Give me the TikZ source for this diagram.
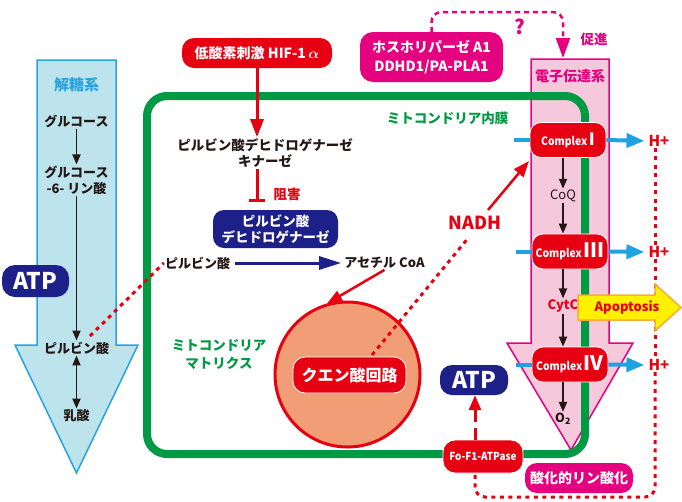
\documentclass[tikz,border=0pt]{standalone}
\usepackage{fontspec}
\setmainfont{Noto Sans CJK JP}
\usetikzlibrary{arrows.meta,calc}
\definecolor{cred}{HTML}{E60012}
\definecolor{cnavy}{HTML}{1D2088}
\definecolor{cmag}{HTML}{E4007F}
\definecolor{cpink}{HTML}{F5C8DC}
\definecolor{cgreen}{HTML}{009944}
\definecolor{csalmon}{HTML}{F19E77}
\definecolor{ccyan}{HTML}{1FA2E1}
\definecolor{clblue}{HTML}{BDE3EC}
\definecolor{cblueb}{HTML}{29A3DF}
\definecolor{cyel}{HTML}{FFF100}
\definecolor{corange}{HTML}{F6AD3C}
\definecolor{cdk}{HTML}{231815}
\newcommand\fs[1]{\fontsize{#1}{#1}\selectfont}
\newcommand\cplx[2]{{\fs{11.5}\scalebox{0.9}[1]{Complex}}\,{\fs{#1}#2}}
\begin{document}
\begin{tikzpicture}[x=1pt,y=-1pt,
  lbl/.style={font=\bfseries\fontsize{13}{16}\selectfont, text=cdk, align=center, inner sep=1pt},
  rbox/.style={fill=cred, draw=white, line width=0.8pt, rounded corners=9pt, text=white, font=\bfseries, inner sep=0pt, align=center},
  nbox/.style={fill=cnavy, rounded corners=11pt, text=white, font=\bfseries, inner sep=0pt, align=center},
  mbox/.style={fill=cmag, rounded corners=12pt, text=white, font=\bfseries, inner sep=0pt, align=center},
  cbox/.style={rbox, minimum width=76pt, minimum height=35pt, rounded corners=11pt},
  blk/.style={draw=cdk, line width=1.9pt, -{Triangle[length=10pt,width=8pt]}},
  reddot/.style={draw=cred, line width=3pt, dash pattern=on 4pt off 4.5pt},
  cyarr/.style={draw=ccyan, line width=4pt, -{Triangle[length=18pt,width=14pt]}},
  cystub/.style={draw=ccyan, line width=4pt},
  redarr/.style={draw=cred, line width=3pt, -{Triangle[length=18pt,width=13pt]}},
  hlab/.style={font=\bfseries\fs{15}, text=cred, fill=white, inner sep=1pt}]
\fill[white] (0,0) rectangle (682,501);
\useasboundingbox (0,0) rectangle (682,501);
% glycolysis arrow
\draw[draw=cblueb, fill=clblue, line width=1.5pt] (37,60) -- (116,60) -- (116,345) -- (138,345) -- (76.5,473) -- (15,345) -- (37,345) -- cycle;
% electron transport arrow
\draw[draw=cmag, fill=cpink, line width=1.5pt] (531,59) -- (609,59) -- (609,343) -- (633,343) -- (571,450) -- (507,343) -- (531,343) -- cycle;
% membrane
\draw[cgreen, line width=8pt, rounded corners=20pt] (147,96) rectangle (585,454);
% citric acid circle
\node[circle, draw=cred, fill=csalmon, line width=3pt, minimum size=145pt, inner sep=0pt] (circ) at (347.5,374.5) {};

% coordinates
\coordinate (d1) at (90,336);
\coordinate (nd1) at (372,355);
\coordinate (nd2) at (469,237);
\coordinate (na1) at (488,210);
\coordinate (na2) at (529,161);
\coordinate (etop) at (563,58);
\coordinate (qy) at (0,12);
\coordinate (dv) at (655,0);
\coordinate (fox) at (475,0);
\coordinate (qb) at (0,497);

% glycolysis
\node[font=\bfseries\fs{15}, text=cblueb] (glyT) at (76.5,85) {解糖系};
\node[lbl] (g1) at (76.5,121) {グルコース};
\node[lbl] (g2) at (76.5,180) {グルコース\\-6- リン酸};
\node[lbl] (g3) at (76.5,348) {ピルビン酸};
\node[lbl] (g4) at (76.5,416) {乳酸};
\draw[blk] (g1) -- (g2);
\draw[blk] (g2) -- (g3);
\draw[blk, {Triangle[length=10pt,width=8pt]}-{Triangle[length=10pt,width=8pt]}] (g3) -- (g4);
\node[nbox, minimum width=67pt, minimum height=32pt, rounded corners=13pt, font=\bfseries\fs{23}] (atpL) at (35.5,281) {ATP};

% top
\node[rbox, draw=none, minimum width=150pt, minimum height=30pt, rounded corners=12pt, font=\bfseries\fs{14}] (hif) at (257,53) {低酸素刺激 HIF-1\,{\boldmath$\alpha$}};
\node[mbox, minimum width=143pt, minimum height=50pt, rounded corners=13pt, font=\bfseries\fontsize{14}{19}\selectfont] (phos) at (431.5,57) {ホスホリパーゼ A1\\DDHD1/PA-PLA1};
\draw[draw=cmag, line width=2.5pt, dash pattern=on 5pt off 4pt, rounded corners=10pt, -{Triangle[length=20pt,width=14pt]}] (phos.north) |- (etop |- qy) -- (etop);
\node[font=\bfseries\fs{20}, text=cmag] (q) at (520,27) {?};
\node[font=\bfseries\fs{13.5}, text=cmag] (sok) at (594,39) {促進};
\node[font=\bfseries\fs{14}, text=cmag] (etc) at (570,76) {電子伝達系};

% matrix
\node[font=\bfseries\fs{13.5}, text=cgreen] (mem) at (447.5,118) {ミトコンドリア内膜};
\node[font=\bfseries\fontsize{13.5}{18}\selectfont, text=cgreen, align=center] (mat) at (219,355) {ミトコンドリア\\マトリクス};
\node[lbl, font=\bfseries\fontsize{13.5}{16.5}\selectfont] (kin) at (265,153) {ピルビン酸デヒドロゲナーゼ\\キナーゼ};
\draw[redarr] (hif.south) -- (hif.south |- kin.north);
\node[nbox, minimum width=125pt, minimum height=38pt, font=\bfseries\fontsize{13.5}{16}\selectfont] (pdh) at (275.5,229) {ピルビン酸\\デヒドロゲナーゼ};
\draw[draw=cred, line width=3pt, -{Bar[width=16pt]}, shorten >=8pt] (kin.south -| hif.south) -- (pdh.north -| hif.south);
\node[font=\bfseries\fs{13.5}, text=cred] (inhL) at (287,194) {阻害};
\node[lbl] (pyr2) at (197.5,263) {ピルビン酸};
\node[lbl] (acoa) at (384.5,263) {アセチル CoA};
\draw[draw=cnavy, line width=3pt, -{Triangle[length=22pt,width=13pt]}, shorten <=4pt, shorten >=2pt] (pyr2.east) -- (acoa.west);
\draw[reddot] (d1) -- (pyr2.west);
\draw[draw=cred, line width=2.5pt, -{Triangle[length=15pt,width=11pt]}] (acoa.south) -- (circ.106);
\node[rbox, minimum width=113pt, minimum height=36pt, rounded corners=12pt, font=\bfseries\fs{16}] (cyc) at (349.5,375) {クエン酸回路};
\node[font=\bfseries\fs{18}, text=cred] (nadh) at (475,223) {NADH};
\draw[reddot] (nd1) -- (nd2);
\draw[draw=cred, line width=2.5pt, -{Triangle[length=16pt,width=12pt]}] (na1) -- (na2);

% complexes
\node[cbox] (c1) at (568,140) {\cplx{17}{I}};
\node[cbox] (c3) at (570,251.5) {\cplx{20}{III}};
\node[cbox] (c4) at (570,364.5) {\cplx{20}{IV}};
\node[font=\fs{13}, text=cdk, inner sep=1pt] (coq) at (563,196) {CoQ};
\node[font=\bfseries\fs{13}, text=cred, inner sep=1pt] (cytc) at (563,306) {CytC};
\node[font=\bfseries\fs{12.5}, text=cdk, inner sep=1pt] (o2) at (563,419) {O\textsubscript{2}};
\draw[blk] (coq.north |- c1.south) -- (coq.north);
\draw[blk] (coq.south) -- (coq.south |- c3.north);
\draw[blk] (cytc.north |- c3.south) -- (cytc.north);
\draw[blk] (cytc.south) -- (cytc.south |- c4.north);
\draw[blk] (o2.north |- c4.south) -- (o2.north);

% H+
\node[hlab] (h1) at (659,141) {H+};
\node[hlab] (h2) at (659,252) {H+};
\node[hlab] (h3) at (659,365) {H+};
\draw[cyarr, shorten >=3pt] (c1.east) -- (h1.west);
\draw[cyarr, shorten >=3pt] (c3.east) -- (h2.west);
\draw[cyarr, shorten >=3pt] (c4.east) -- (h3.west);
\draw[cystub] (c1.west) -- ++(-16,0);
\draw[cystub] (c3.west) -- ++(-16,0);
\draw[cystub] (c4.west) -- ++(-16,0);

% ATP synthase
\node[rbox, minimum width=80pt, minimum height=33pt, rounded corners=12pt, font=\bfseries\fs{11}] (fo) at (483,456.5) {\scalebox{0.9}[1]{Fo-F1-ATPase}};
\node[nbox, minimum width=68pt, minimum height=30pt, rounded corners=12pt, font=\bfseries\fs{23}] (atpR) at (474,380) {ATP};
\draw[draw=cred, line width=3pt, dash pattern=on 12pt off 6pt, -{Triangle[length=15pt,width=12pt]}] (fox |- fo.north) -- (fox |- atpR.south);
\node[mbox, minimum width=108pt, minimum height=30pt, font=\bfseries\fs{14}] (oxp) at (579,478) {酸化的リン酸化};

% dotted return path
\draw[reddot] (h1.south -| dv) -- (h2.north -| dv);
\draw[reddot] (h2.south -| dv) -- (h3.north -| dv);
\draw[reddot, rounded corners=10pt] (h3.south -| dv) |- (fox |- qb) -- (fox |- fo.south);

% apoptosis
\draw[draw=corange, fill=cyel, line width=1.5pt] (578,295) -- (655,295) -- (655,284) -- (681,307.5) -- (655,331) -- (655,320) -- (578,320) -- cycle;
\node[font=\bfseries\fs{13}, text=cred] (apo) at (627,307.5) {Apoptosis};
\end{tikzpicture}
\end{document}
